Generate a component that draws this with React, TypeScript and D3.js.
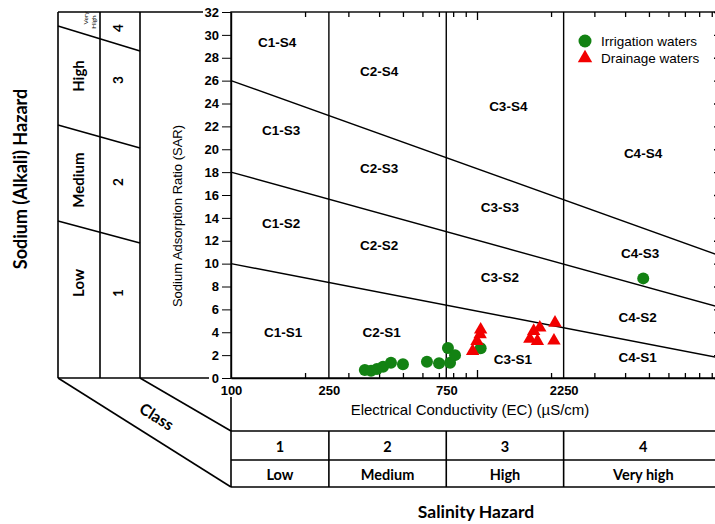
import React, { useEffect, useRef } from 'react';
import * as d3 from 'd3';

// axis values
const sarTicks = [0, 2, 4, 6, 8, 10, 12, 14, 16, 18, 20, 22, 24, 26, 28, 30, 32];
const ecLabels = [100, 250, 750, 2250];
const ecMinor = [200, 300, 400, 500, 600, 700, 800, 900, 2000, 3000, 4000, 5000, 6000, 7000, 8000, 9000];
const ecDecades = [1000, 10000];

// salinity class bounds (EC) and sodium hazard lines (SAR at EC=100 and EC=10000)
const salinityBounds = [100, 250, 750, 2250, 10000];
const sodiumLineStart = [10, 18, 26];
const sodiumLineEnd = [1.7, 6.1, 10.6];

// zone labels
const zoneNames = [
  'C1-S4', 'C2-S4', 'C3-S4', 'C4-S4',
  'C1-S3', 'C2-S3', 'C3-S3', 'C4-S3',
  'C1-S2', 'C2-S2', 'C3-S2', 'C4-S2',
  'C1-S1', 'C2-S1', 'C3-S1', 'C4-S1',
];
const zoneEC = [
  154, 400, 1340, 4730,
  160, 400, 1240, 4600,
  160, 400, 1240, 4500,
  163, 410, 1400, 4500,
];
const zoneSAR = [
  29.3, 26.8, 23.7, 19.6,
  21.6, 18.3, 14.9, 10.9,
  13.5, 11.6, 8.8, 5.3,
  4.0, 4.0, 1.6, 1.8,
];

// samples
const irrigationEC = [350, 371, 392, 415, 447, 500, 626, 701, 777, 762, 814, 1035, 4740];
const irrigationSAR = [0.7, 0.64, 0.79, 0.99, 1.34, 1.2, 1.42, 1.28, 1.34, 2.62, 2.0, 2.6, 8.71];
const drainageEC = [2075, 1800, 1700, 1640, 1760, 2055, 1035, 1030, 1000, 960];
const drainageSAR = [4.83, 4.4, 4.1, 3.41, 3.23, 3.26, 4.22, 3.82, 3.23, 2.36];

// hazard tables
const sodiumLevels = ['Low', 'Medium', 'High'];
const sodiumClasses = ['1', '2', '3', '4'];
const salinityClasses = ['1', '2', '3', '4'];
const salinityLevels = ['Low', 'Medium', 'High', 'Very high'];

const GREEN = '#138213';
const RED = '#f20000';
const ARIAL = '"Liberation Sans", Arial, sans-serif';
const CAL = 'Lato, "Open Sans", sans-serif';

export default function App() {
  const ref = useRef<SVGSVGElement>(null);

  useEffect(() => {
    const svg = d3.select(ref.current);
    svg.selectAll('*').remove();

    const left = 231, right = 723, top = 12, bottom = 378;
    const x = d3.scaleLog().domain([100, 10000]).range([left, right]);
    const y = d3.scaleLinear().domain([0, 32]).range([bottom, top]);

    const g = svg.append('g');

    // ---- left sodium hazard table
    const tbl = svg.append('g').attr('stroke', '#000').attr('stroke-width', 1.6).attr('fill', 'none');
    [58, 100, 140].forEach((cx) => {
      tbl.append('line').attr('x1', cx).attr('x2', cx).attr('y1', top).attr('y2', bottom);
    });
    tbl.append('line').attr('x1', 58).attr('x2', 203).attr('y1', top).attr('y2', top);
    tbl.append('line').attr('x1', 58).attr('x2', 209).attr('y1', bottom).attr('y2', bottom);
    const diag = [[26, 51], [125, 148], [221, 243]];
    diag.forEach(([a, b]) => {
      tbl.append('line').attr('x1', 58).attr('y1', a).attr('x2', 140).attr('y2', b);
    });
    // slanted "Class" band
    tbl.append('line').attr('x1', 58).attr('y1', bottom).attr('x2', left).attr('y2', 487);
    tbl.append('line').attr('x1', 140).attr('y1', bottom).attr('x2', left).attr('y2', 431);

    // ---- bottom salinity table
    tbl.append('line').attr('x1', left).attr('x2', left).attr('y1', 397).attr('y2', 487);
    [431, 460, 487].forEach((ry) => {
      tbl.append('line').attr('x1', left).attr('x2', 715).attr('y1', ry).attr('y2', ry);
    });
    salinityBounds.slice(1, 4).forEach((b) => {
      tbl.append('line').attr('x1', x(b)).attr('x2', x(b)).attr('y1', 431).attr('y2', 487);
    });
    salinityClasses.forEach((c, i) => {
      const cx = (x(salinityBounds[i]) + x(salinityBounds[i + 1])) / 2;
      g.append('text').attr('x', cx).attr('y', 446).text(c);
      g.append('text').attr('x', cx).attr('y', 474).text(salinityLevels[i]);
    });
    g.selectAll('text')
      .attr('text-anchor', 'middle')
      .attr('dominant-baseline', 'central')
      .style('font', `bold 14.5px ${CAL}`);

    // left table texts
    const rot = (tx: number, ty: number, t: string, font: string, angle = -90) =>
      svg.append('text')
        .attr('transform', `translate(${tx},${ty}) rotate(${angle})`)
        .attr('text-anchor', 'middle')
        .attr('dominant-baseline', 'central')
        .style('font', font)
        .text(t);

    const levelY = [283, 180, 76];
    sodiumLevels.forEach((t, i) => rot(78, levelY[i], t, `bold 15px ${CAL}`));
    const classY = [293, 182, 80, 28];
    sodiumClasses.forEach((t, i) => rot(118, classY[i], t, `bold 13.5px ${CAL}`));
    rot(85.5, 18, 'Very', `6.5px ${CAL}`);
    rot(93, 22, 'High', `6.5px ${CAL}`);
    rot(20, 179, 'Sodium (Alkali) Hazard', `bold 18px ${CAL}`);
    rot(177, 216, 'Sodium Adsorption Ratio (SAR)', `13px ${ARIAL}`);
    rot(157, 416, 'Class', `bold 16px ${CAL}`, 32);

    // ---- plot area
    const pl = svg.append('g');
    pl.append('rect').attr('x', left).attr('y', top)
      .attr('width', right - left).attr('height', bottom - top)
      .attr('fill', 'none').attr('stroke', '#000').attr('stroke-width', 1.4);

    salinityBounds.slice(1, 4).forEach((b) => {
      pl.append('line').attr('x1', x(b)).attr('x2', x(b)).attr('y1', y(0)).attr('y2', y(32))
        .attr('stroke', '#000').attr('stroke-width', 1.4);
    });
    sodiumLineStart.forEach((s, i) => {
      pl.append('line')
        .attr('x1', x(100)).attr('y1', y(s))
        .attr('x2', x(10000)).attr('y2', y(sodiumLineEnd[i]))
        .attr('stroke', '#000').attr('stroke-width', 1.4);
    });

    // axes
    const yAx = pl.append('g').attr('transform', `translate(${left},0)`)
      .call(d3.axisLeft(y).tickValues(sarTicks).tickSize(9).tickSizeOuter(0).tickPadding(3));
    yAx.selectAll('text').style('font', `bold 13px ${ARIAL}`).attr('fill', '#000');

    const xAx = pl.append('g').attr('transform', `translate(0,${bottom})`)
      .call(d3.axisBottom(x).tickValues(ecLabels).tickSize(0).tickSizeOuter(0).tickPadding(8)
        .tickFormat(d3.format('d')));
    xAx.selectAll('text').style('font', `bold 13px ${ARIAL}`).attr('fill', '#000');

    const inner = (axis: any, pos: string, vals: number[], size: number) => {
      const a = pl.append('g').attr('transform', pos)
        .call(axis.tickValues(vals).tickSize(size).tickSizeOuter(0).tickFormat(() => ''));
      a.select('.domain').remove();
      a.selectAll('line').attr('stroke-width', 1.3);
    };
    inner(d3.axisTop(x), `translate(0,${bottom})`, ecMinor, 5);
    inner(d3.axisTop(x), `translate(0,${bottom})`, ecDecades, 8);
    inner(d3.axisBottom(x), `translate(0,${top})`, ecMinor, 5);
    inner(d3.axisBottom(x), `translate(0,${top})`, ecDecades, 8);
    inner(d3.axisLeft(y), `translate(${right},0)`, sarTicks, 9);

    pl.selectAll('.domain').attr('stroke-width', 1.4);

    // zone labels
    zoneNames.forEach((n, i) => {
      pl.append('text')
        .attr('x', x(zoneEC[i])).attr('y', y(zoneSAR[i]))
        .attr('text-anchor', 'middle').attr('dominant-baseline', 'central')
        .style('font', `bold 13.5px ${ARIAL}`)
        .text(n);
    });

    pl.append('text').attr('x', 470).attr('y', 409)
      .attr('text-anchor', 'middle').attr('dominant-baseline', 'central')
      .style('font', `15px ${ARIAL}`)
      .text('Electrical Conductivity (EC) (µS/cm)');
    svg.append('text').attr('x', 476).attr('y', 511)
      .attr('text-anchor', 'middle').attr('dominant-baseline', 'central')
      .style('font', `bold 17.5px ${CAL}`)
      .text('Salinity Hazard');

    // samples
    pl.selectAll('.irr').data(irrigationEC).enter().append('circle')
      .attr('cx', (d) => x(d)).attr('cy', (_d, i) => y(irrigationSAR[i]))
      .attr('r', 6).attr('fill', GREEN);
    const tri = d3.symbol().type(d3.symbolTriangle).size(78);
    pl.selectAll('.drn').data(drainageEC).enter().append('path')
      .attr('d', tri)
      .attr('transform', (d, i) => `translate(${x(d)},${y(drainageSAR[i])})`)
      .attr('fill', RED);

    // legend
    const lg = svg.append('g');
    lg.append('circle').attr('cx', 585).attr('cy', 41).attr('r', 6.5).attr('fill', GREEN);
    lg.append('path').attr('d', d3.symbol().type(d3.symbolTriangle).size(90))
      .attr('transform', 'translate(585,58)').attr('fill', RED);
    ['Irrigation waters', 'Drainage waters'].forEach((t, i) => {
      lg.append('text').attr('x', 601).attr('y', 41 + i * 17)
        .attr('dominant-baseline', 'central')
        .style('font', `13.5px ${ARIAL}`)
        .text(t);
    });
  }, []);

  return (
    <div style={{ position: 'absolute', left: 0, top: 0 }}>
      <svg ref={ref} width={715} height={524} style={{ display: 'block', background: '#fff' }} />
    </div>
  );
}
